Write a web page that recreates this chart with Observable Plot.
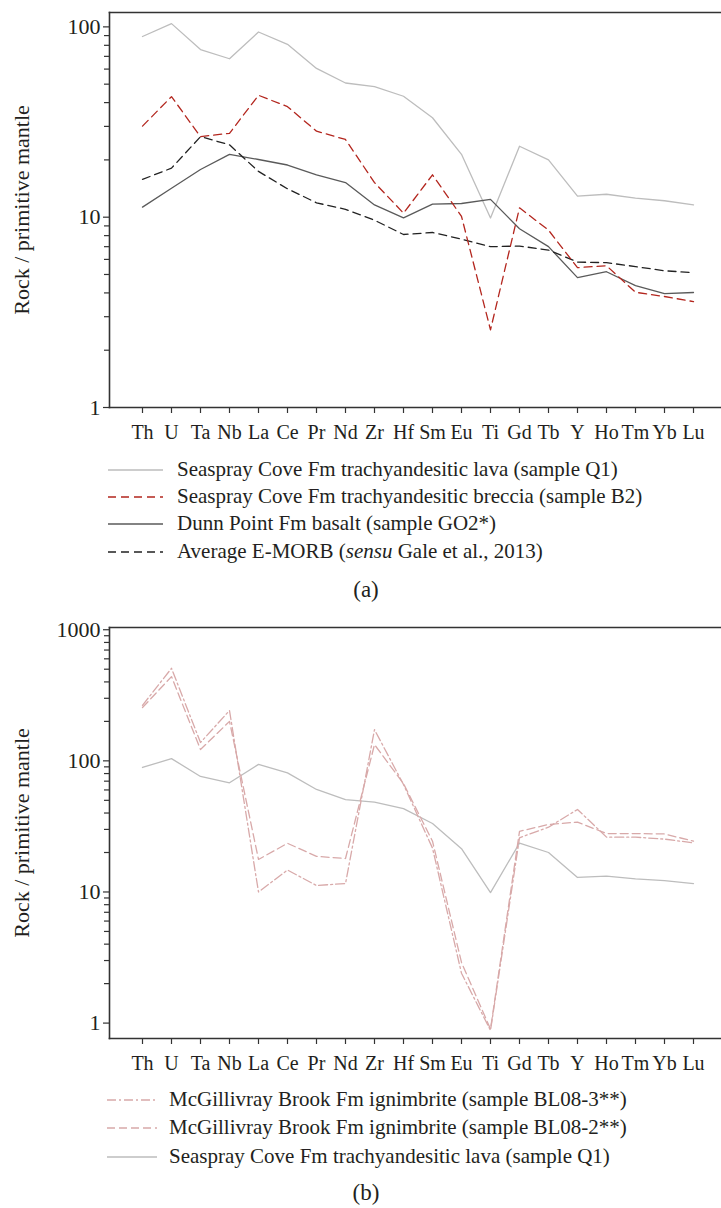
<!DOCTYPE html>
<html>
<head>
<meta charset="utf-8">
<script src="https://cdn.jsdelivr.net/npm/d3@7"></script>
<script src="https://cdn.jsdelivr.net/npm/@observablehq/plot@0.6"></script>
<style>
  html, body { margin: 0; padding: 0; background: #fff; }
  #root { position: relative; width: 721px; height: 1208px; font-family: "Liberation Serif", "DejaVu Serif", serif; color: #231f20; }
  .chart { position: absolute; left: 0; }
  .leg { position: absolute; font-size: 21px; line-height: 24px; white-space: nowrap; }
  .cap { position: absolute; font-size: 23px; line-height: 26px; width: 60px; text-align: center; }
</style>
</head>
<body>
<div id="root"></div>
<script>
// ---------- data ----------
const elements = ["Th","U","Ta","Nb","La","Ce","Pr","Nd","Zr","Hf","Sm","Eu","Ti","Gd","Tb","Y","Ho","Tm","Yb","Lu"];
const q1    = [89, 104, 76, 68, 94, 81, 60.5, 50.7, 48.5, 43.2, 33.3, 21.4, 9.9, 23.6, 20, 12.9, 13.2, 12.6, 12.2, 11.6];
const b2    = [30.1, 43, 26.5, 27.6, 43.7, 38.1, 28.3, 25.6, 15.2, 10.5, 16.7, 10.1, 2.56, 11.2, 8.55, 5.43, 5.56, 4.03, 3.83, 3.6];
const go2   = [11.3, 14.2, 17.8, 21.4, 20.1, 18.8, 16.7, 15.2, 11.6, 9.92, 11.7, 11.8, 12.4, 8.69, 7.0, 4.81, 5.17, 4.37, 3.97, 4.02];
const emorb = [15.8, 18.1, 26.5, 24, 17.4, 14.1, 11.9, 11, 9.64, 8.11, 8.31, 7.67, 7.0, 7.05, 6.72, 5.81, 5.77, 5.5, 5.23, 5.11];
const bl083 = [265, 508, 138, 242, 10, 14.7, 11.2, 11.6, 173, 66, 21.6, 2.4, 0.88, 25.9, 31.2, 42.6, 26.2, 26.2, 25.3, 23.7];
const bl082 = [255, 439, 122, 200, 17.7, 23.5, 18.7, 18.0, 133, 67, 24.4, 2.9, 0.9, 29, 32.7, 34.1, 27.9, 27.9, 27.7, 24.4];

const labelsA = [
  "Seaspray Cove Fm trachyandesitic lava (sample Q1)",
  "Seaspray Cove Fm trachyandesitic breccia (sample B2)",
  "Dunn Point Fm basalt (sample GO2*)",
  "Average E-MORB (<i>sensu</i> Gale et al., 2013)"
];
const labelsB = [
  "McGillivray Brook Fm ignimbrite (sample BL08-3**)",
  "McGillivray Brook Fm ignimbrite (sample BL08-2**)",
  "Seaspray Cove Fm trachyandesitic lava (sample Q1)"
];
const majorA = [1, 10, 100];
const majorB = [1, 10, 100, 1000];
const yLabel = "Rock / primitive mantle";

// ---------- styles ----------
const sQ1  = {values: q1,    color: "#bdbdbd", width: 1.3, dash: null};
const sB2  = {values: b2,    color: "#b3261e", width: 1.3, dash: "8,5"};
const sGO2 = {values: go2,   color: "#5a5a5a", width: 1.3, dash: null};
const sEM  = {values: emorb, color: "#222222", width: 1.3, dash: "8,5"};
const sBL3 = {values: bl083, color: "#d8a9a9", width: 1.3, dash: "9,3,2,3"};
const sBL2 = {values: bl082, color: "#d8a9a9", width: 1.3, dash: "8,4"};

function minorTicks(maxDecade) {
  const t = [];
  for (let d = 1; d < maxDecade; d *= 10) for (let k = 2; k <= 9; k++) t.push(d * k);
  return t;
}

function makeChart({series, yDomain, height, marginTop, major}) {
  const fontFamily = '"Liberation Serif", "DejaVu Serif", serif';
  return Plot.plot({
    width: 721,
    height,
    marginLeft: 109,
    marginRight: 0,
    marginTop,
    marginBottom: 37,
    style: {fontFamily, fontSize: "20px", color: "#231f20", background: "#fff"},
    x: {type: "point", domain: elements, range: [125, 709]},
    y: {type: "log", domain: yDomain},
    marks: [
      ...series.map(s => Plot.line(
        elements.map((e, i) => ({e, v: s.values[i]})),
        {x: "e", y: "v", stroke: s.color, strokeWidth: s.width, strokeDasharray: s.dash || undefined}
      )),
      Plot.frame({anchor: "left", stroke: "#333", strokeWidth: 1.6}),
      Plot.frame({anchor: "top", stroke: "#333", strokeWidth: 1.6}),
      Plot.frame({anchor: "bottom", stroke: "#333", strokeWidth: 1.6}),
      Plot.axisY(minorTicks(major[major.length - 1]), {tickSize: 5, tickFormat: () => "", label: null, stroke: "#333", strokeWidth: 1.2}),
      Plot.axisY(major, {tickSize: 6, tickPadding: 3, tickFormat: d => String(d), fontSize: 22, label: yLabel, labelAnchor: "center", labelOffset: 96, labelArrow: "none", stroke: "#333", strokeWidth: 1.2}),
      Plot.axisX({tickSize: 6, tickPadding: 11, fontSize: 20, label: null, stroke: "#333", strokeWidth: 1.2})
    ]
  });
}

const root = document.getElementById("root");

function place(node, top) {
  node.classList.add("chart");
  node.style.top = top + "px";
  root.appendChild(node);
}

function legendRow(centerY, lineX0, lineX1, textX, s, html) {
  const row = document.createElement("div");
  row.className = "leg";
  row.style.left = textX + "px";
  row.style.top = (centerY - 13) + "px";
  row.innerHTML = html;
  root.appendChild(row);
  const ns = "http://www.w3.org/2000/svg";
  const svg = document.createElementNS(ns, "svg");
  svg.setAttribute("width", lineX1 - lineX0);
  svg.setAttribute("height", 6);
  svg.style.position = "absolute";
  svg.style.left = lineX0 + "px";
  svg.style.top = (centerY - 3) + "px";
  const ln = document.createElementNS(ns, "line");
  ln.setAttribute("x1", 0); ln.setAttribute("x2", lineX1 - lineX0);
  ln.setAttribute("y1", 3); ln.setAttribute("y2", 3);
  ln.setAttribute("stroke", s.color);
  ln.setAttribute("stroke-width", s.width);
  if (s.dash) ln.setAttribute("stroke-dasharray", s.dash);
  svg.appendChild(ln);
  root.appendChild(svg);
}

function caption(text, centerY) {
  const c = document.createElement("div");
  c.className = "cap";
  c.style.left = (366 - 30) + "px";
  c.style.top = (centerY - 13) + "px";
  c.textContent = text;
  root.appendChild(c);
}

// (a)
place(makeChart({series: [sQ1, sGO2, sEM, sB2], yDomain: [1, 119], height: 444, marginTop: 12, major: majorA}), 0);
const seriesA = [sQ1, sB2, sGO2, sEM];
[470, 497, 524, 552].forEach((cy, i) => legendRow(cy, 108, 163, 177, seriesA[i], labelsA[i]));
caption("(a)", 590);

// (b)
place(makeChart({series: [sQ1, sBL2, sBL3], yDomain: [0.763, 1040], height: 459, marginTop: 11, major: majorB}), 616);
const seriesB = [sBL3, sBL2, sQ1];
[1100, 1128, 1157].forEach((cy, i) => legendRow(cy, 107, 157, 169, seriesB[i], labelsB[i]));
caption("(b)", 1193);
</script>
</body>
</html>
